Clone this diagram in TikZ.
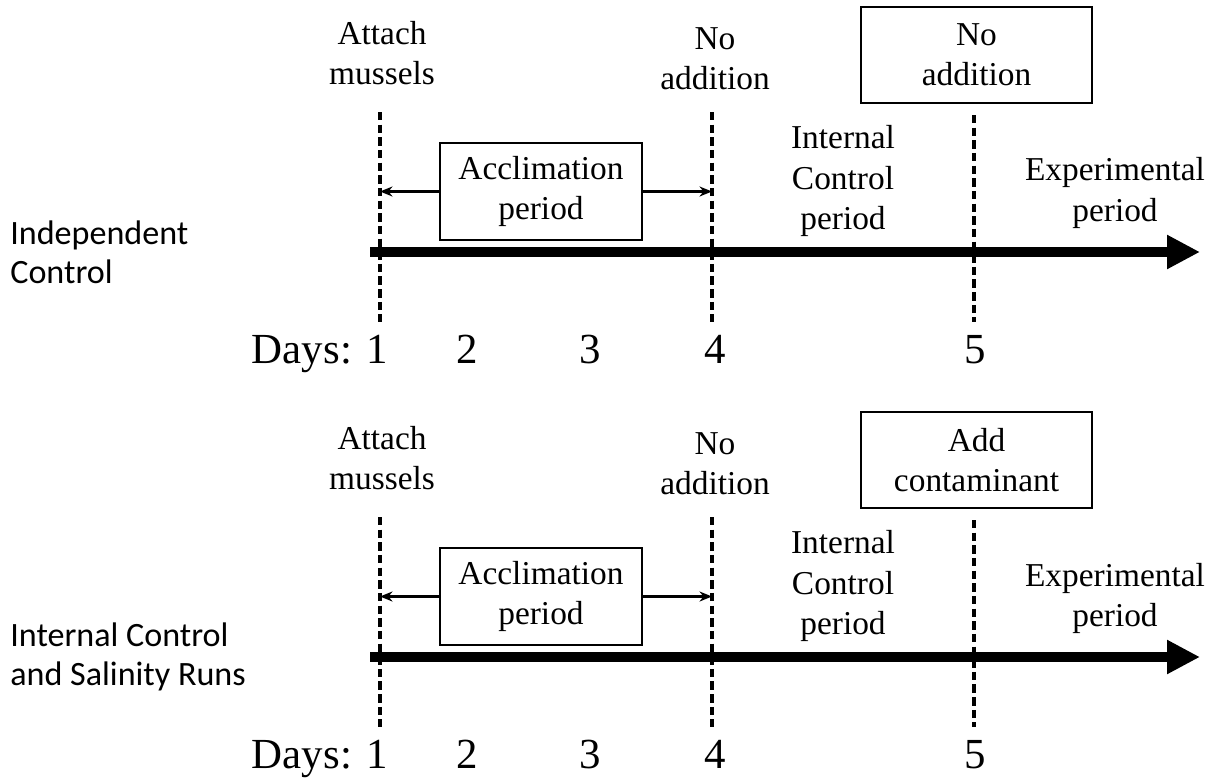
\documentclass[tikz,border=0pt]{standalone}
\usepackage{fontspec}
\setmainfont{Liberation Serif}
\newfontfamily\runfont{Carlito}
\usetikzlibrary{arrows.meta, positioning}

\begin{document}
\begin{tikzpicture}[
  txt/.style={font=\fontsize{19}{22.8}\selectfont, align=center, inner sep=0pt},
  daynum/.style={font=\fontsize{24.4}{28}\selectfont, anchor=base, inner sep=0pt},
  runlab/.style={font=\runfont\fontsize{19.4}{22}\selectfont, align=left, anchor=west, inner sep=0pt},
  period/.style={draw, line width=1pt, txt, minimum width=4.04cm, minimum height=1.94cm},
  daymark/.style={dash pattern=on 4.8pt off 2.4pt, line width=2.1pt},
  timeline/.style={-{Triangle[length=0.66cm, width=0.64cm]}, line width=6.2pt},
  arrow/.style={-{Stealth[length=2.5mm, width=2mm]}, line width=1.2pt}
]
  \useasboundingbox (0,0) rectangle (24.34,-15.62);

  % one panel per run type
  \foreach \dy/\run/\act [count=\p] in {0/{Independent\\Control}/{No\\addition},
                                       8.1/{Internal Control\\and Salinity Runs}/{Add\\contaminant}} {
  \begin{scope}[yshift=-\dy cm]
    \node[runlab] (run\p) at (0.2,-5.04) {\run};

    \coordinate (start\p) at (7.4,-5.04);
    \coordinate (end\p) at (24.0,-5.04);
    \draw[timeline] (start\p) -- (end\p);

    % day markers
    \coordinate (d1t\p) at (7.6,-2.24);   \coordinate (d1b\p) at (7.6,-6.44);
    \coordinate (d4t\p) at (14.24,-2.24); \coordinate (d4b\p) at (14.24,-6.44);
    \coordinate (d5t\p) at (19.48,-2.30); \coordinate (d5b\p) at (19.48,-6.44);
    \draw[daymark] (d1t\p) -- (d1b\p);
    \draw[daymark] (d4t\p) -- (d4b\p);
    \draw[daymark] (d5t\p) -- (d5b\p);

    \node[period] (accl\p) at (10.82,-3.83) {Acclimation\\period};
    \draw[arrow] (accl\p.west) -- (accl\p.west -| d1t\p);
    \draw[arrow] (accl\p.east) -- (accl\p.east -| d4t\p);

    \node[txt] (attach\p) at (7.64,-1.06) {Attach\\mussels};
    \node[txt] (noadd\p) at (14.3,-1.18) {No\\addition};
    \node[period, minimum width=4.62cm, minimum height=1.92cm] (act\p) at (19.53,-1.1) {\act};
    \node[txt] (ctrl\p) at (16.86,-3.62) {Internal\\Control\\period};
    \node[txt] (expt\p) at (22.3,-3.86) {Experimental\\period};

    \node[daynum, anchor=base east] (days\p) at (7.76,-7.26) {Days: 1};
    \node[daynum] (two\p) at (9.34,-7.26) {2};
    \node[daynum] (three\p) at (11.8,-7.26) {3};
    \node[daynum] (four\p) at (14.3,-7.26) {4};
    \node[daynum] (five\p) at (19.5,-7.26) {5};
  \end{scope}
  }
\end{tikzpicture}
\end{document}
